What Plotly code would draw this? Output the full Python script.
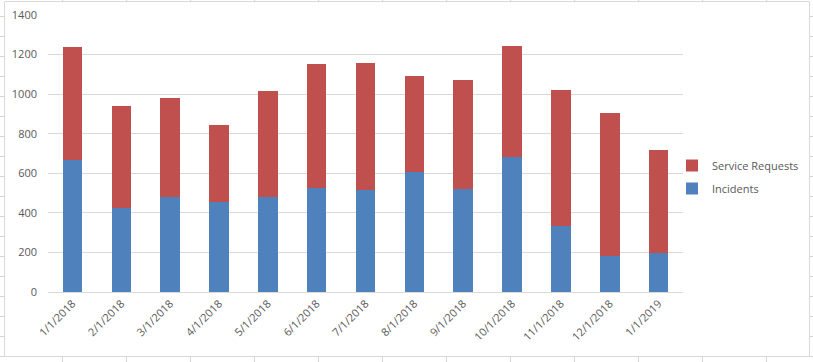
import plotly.graph_objects as go

months = ["1/1/2018", "2/1/2018", "3/1/2018", "4/1/2018", "5/1/2018", "6/1/2018",
          "7/1/2018", "8/1/2018", "9/1/2018", "10/1/2018", "11/1/2018", "12/1/2018", "1/1/2019"]
incidents = [668, 425, 480, 455, 480, 527, 517, 606, 519, 682, 334, 182, 196]
service_requests = [572, 515, 500, 389, 536, 625, 640, 486, 552, 561, 687, 723, 522]
y_ticks = [0, 200, 400, 600, 800, 1000, 1200, 1400]

FIG_W, FIG_H = 813, 362
L, R, T, B = 48, 130, 15, 70
PW, PH = FIG_W - L - R, FIG_H - T - B


def px(x):
    return (x - L) / PW


def py(y):
    return (FIG_H - B - y) / PH


TEXT = "#595959"
GRID = "#D9D9D9"
CELL = "#D4D4D4"
FONT = "Open Sans"

fig = go.Figure()
fig.add_trace(go.Bar(name="Incidents", x=months, y=incidents, marker_color="#4F81BD",
                     marker_line_width=0, legendgroup="inc", legendrank=2))
fig.add_trace(go.Bar(name="Service Requests", x=months, y=service_requests,
                     marker_color="#C0504D", marker_line_width=0, legendgroup="sr",
                     legendrank=1))

shapes = []
# chart border
shapes.append(dict(type="rect", xref="paper", yref="paper", x0=px(4.5), x1=px(809.5),
                   y0=py(1.5), y1=py(356.5), line=dict(color=GRID, width=1), layer="below"))
# spreadsheet cell lines visible outside the chart
for k in range(12):
    cx = 62.5 + 64 * k
    shapes.append(dict(type="line", xref="paper", yref="paper", x0=px(cx), x1=px(cx),
                       y0=py(357), y1=py(362), line=dict(color=CELL, width=1)))
    shapes.append(dict(type="line", xref="paper", yref="paper", x0=px(cx), x1=px(cx),
                       y0=py(0), y1=py(1), line=dict(color=CELL, width=1)))
for k in range(18):
    ry = 16.5 + 20 * k
    shapes.append(dict(type="line", xref="paper", yref="paper", x0=px(0), x1=px(4),
                       y0=py(ry), y1=py(ry), line=dict(color=CELL, width=1)))
    shapes.append(dict(type="line", xref="paper", yref="paper", x0=px(810), x1=px(813),
                       y0=py(ry), y1=py(ry), line=dict(color=CELL, width=1)))

fig.update_layout(
    width=FIG_W, height=FIG_H,
    margin=dict(l=L, r=R, t=T, b=B, pad=0, autoexpand=False),
    barmode="stack",
    bargap=0.6,
    plot_bgcolor="white", paper_bgcolor="white",
    font=dict(family=FONT, size=11, color=TEXT),
    shapes=shapes,
    legend=dict(x=px(672), xanchor="left", y=py(151), yanchor="top",
                traceorder="grouped", bgcolor="rgba(0,0,0,0)",
                font=dict(family=FONT, size=11, color=TEXT),
                itemwidth=30, tracegroupgap=4),
    xaxis=dict(type="category", tickangle=-45, showgrid=False, showline=True,
               linecolor=GRID, linewidth=1, ticks="", automargin=False,
               tickfont=dict(size=11, color=TEXT)),
    yaxis=dict(range=[0, 1400], tickvals=y_ticks, showgrid=True, gridcolor=GRID,
               gridwidth=1, zeroline=False, showline=False, ticks="", automargin=False,
               ticklabelstandoff=10, tickfont=dict(size=11, color=TEXT)),
)

fig.write_html("out.html", config={"displayModeBar": False},
               post_script="document.body.style.margin='0';document.body.style.overflow='hidden';")
